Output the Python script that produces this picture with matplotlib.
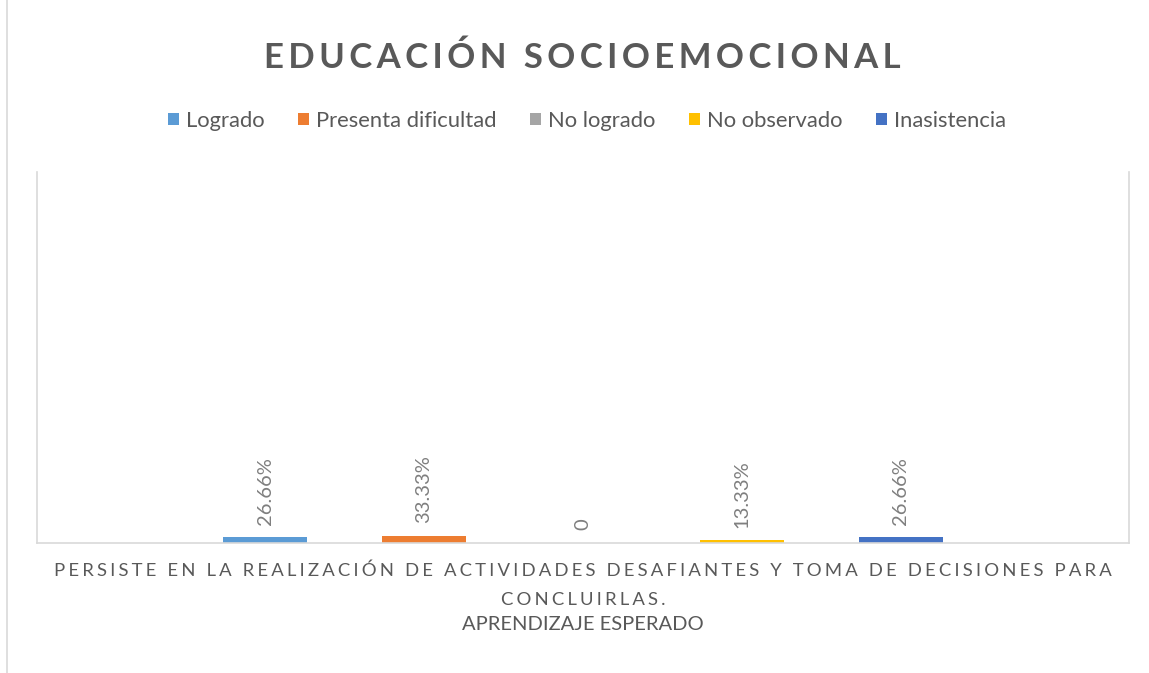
import numpy as np
import matplotlib
matplotlib.use("Agg")
import matplotlib.pyplot as plt
from matplotlib.lines import Line2D
from matplotlib.patches import Patch

# datos de la gráfica
categoria = "PERSISTE EN LA REALIZACIÓN DE ACTIVIDADES DESAFIANTES Y TOMA DE DECISIONES PARA\nCONCLUIRLAS."
series = ["Logrado", "Presenta dificultad", "No logrado", "No observado", "Inasistencia"]
valores = [0.2666, 0.3333, 0.0, 0.1333, 0.2666]
colores = ["#5B9BD5", "#ED7D31", "#A5A5A5", "#FFC000", "#4472C4"]

titulo = "EDUCACIÓN SOCIOEMOCIONAL"
eje_x = "APRENDIZAJE ESPERADO"

GRIS = "#595959"
FUENTE = ["Lato", "DejaVu Sans"]
plt.rcParams['font.family'] = FUENTE


def espaciar(texto, sep):
    # simula el espaciado entre letras de Excel
    return "\n".join(sep.join(linea) for linea in texto.split("\n"))


fig = plt.figure(figsize=(11.49, 6.73), dpi=100)
ax = fig.add_axes([37 / 1149, 1 - 543 / 673, 1092 / 1149, 371 / 673])

paso = 0.1456
ancho = 0.077
x = (np.arange(len(series)) - 2) * paso

for i in range(len(series)):
    ax.bar(x[i], valores[i], width=ancho, color=colores[i], label=series[i], zorder=2)
    etiqueta = f"{valores[i] * 100:.2f}%" if valores[i] else "0"
    ax.annotate(etiqueta, (x[i], valores[i]), xytext=(0, 9), textcoords="offset points",
                rotation=90, ha="center", va="bottom", fontsize=14.5, color="#7F7F7F")

ax.set_xlim(-0.5, 0.5)
ax.set_ylim(0, 17)
ax.set_yticks([])
ax.set_xticks([0])
ax.set_xticklabels([espaciar(categoria, "\u2006")], fontsize=13.3, color=GRIS,
                   linespacing=2.0)
ax.tick_params(axis="x", length=0, pad=14)
ax.set_xlabel(eje_x, fontsize=14.5, color=GRIS, labelpad=6)

for lado in ["left", "right", "bottom"]:
    ax.spines[lado].set_color("#D9D9D9")
    ax.spines[lado].set_linewidth(1.2)
ax.spines["top"].set_visible(False)

fig.text(582 / 1149, 1 - 58 / 673, espaciar(titulo, "\u2009"), ha="center", va="center",
         fontsize=25, fontweight="bold", color=GRIS)

handles = [Patch(facecolor=c, edgecolor="none") for c in colores]
fig.legend(handles, series, loc="center", bbox_to_anchor=(587 / 1149, 1 - 121 / 673),
           ncol=5, frameon=False, fontsize=15.8, labelcolor=GRIS,
           handlelength=0.5, handleheight=0.5, handletextpad=0.3, columnspacing=1.55)

# borde izquierdo del área del gráfico
fig.add_artist(Line2D([7 / 1149, 7 / 1149], [0, 1], color="#D9D9D9", lw=1.2))

fig.savefig("out.png", dpi=100)
